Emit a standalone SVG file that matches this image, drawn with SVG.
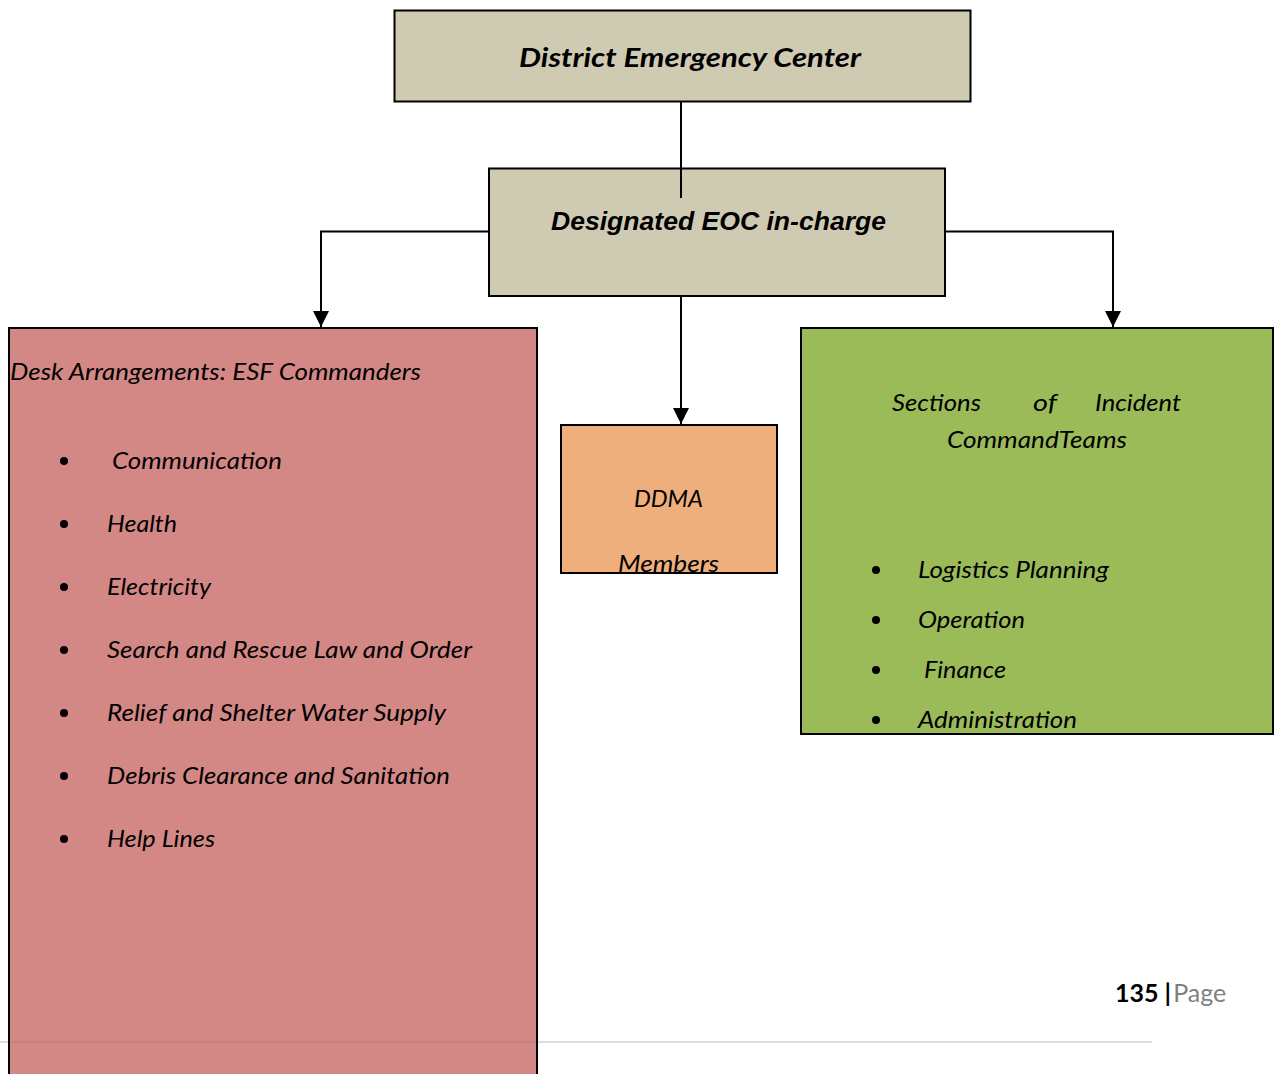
<svg xmlns="http://www.w3.org/2000/svg" width="1275" height="1074" viewBox="0 0 1275 1074">
<style>
.box{stroke:#000;stroke-width:2}
.tan{fill:#CFCBB3}
.conn{stroke:#000;stroke-width:2;fill:none}
.it{font-family:Lato,"Open Sans",sans-serif;font-style:italic;font-size:24px;fill:#000}
.bul{fill:#000}
</style>
<defs>
<marker id="arr" viewBox="0 0 10 10" refX="10" refY="5" markerWidth="16" markerHeight="20" markerUnits="userSpaceOnUse" orient="auto">
<path d="M0,0 L10,5 L0,10 z" fill="#000"/>
</marker>
</defs>
<rect x="0" y="0" width="1275" height="1074" fill="#fff"/>
<g id="footer-line"><line x1="0" y1="1042" x2="1152" y2="1042" stroke="#DDDDDD" stroke-width="2"/></g>

<g id="district">
<rect class="box tan" x="394.5" y="10.5" width="576" height="91"/>
<text x="690" y="67" text-anchor="middle" font-family="Lato,'Open Sans',sans-serif" font-weight="bold" font-style="italic" font-size="27" textLength="342" lengthAdjust="spacingAndGlyphs">District Emergency Center</text>
</g>

<g id="eoc">
<rect class="box tan" x="489" y="168.5" width="456" height="127.5"/>
<text x="718.5" y="230" text-anchor="middle" font-family="'Liberation Sans',Arial,sans-serif" font-weight="bold" font-style="italic" font-size="25" textLength="335" lengthAdjust="spacingAndGlyphs">Designated EOC in-charge</text>
</g>

<g id="desk">
<rect class="box" x="9" y="328" width="528" height="760" fill="#D48886"/>
<text class="it" x="10" y="380" textLength="411" lengthAdjust="spacingAndGlyphs">Desk Arrangements: ESF Commanders</text>
<circle class="bul" cx="64" cy="461" r="4"/>
<text class="it" x="112" y="469" textLength="170" lengthAdjust="spacingAndGlyphs">Communication</text>
<circle class="bul" cx="64" cy="524" r="4"/>
<text class="it" x="107" y="532" textLength="70" lengthAdjust="spacingAndGlyphs">Health</text>
<circle class="bul" cx="64" cy="587" r="4"/>
<text class="it" x="107" y="595" textLength="104" lengthAdjust="spacingAndGlyphs">Electricity</text>
<circle class="bul" cx="64" cy="650" r="4"/>
<text class="it" x="107" y="658" textLength="365" lengthAdjust="spacingAndGlyphs">Search and Rescue Law and Order</text>
<circle class="bul" cx="64" cy="713" r="4"/>
<text class="it" x="107" y="721" textLength="339" lengthAdjust="spacingAndGlyphs">Relief and Shelter Water Supply</text>
<circle class="bul" cx="64" cy="776" r="4"/>
<text class="it" x="107" y="784" textLength="343" lengthAdjust="spacingAndGlyphs">Debris Clearance and Sanitation</text>
<circle class="bul" cx="64" cy="839" r="4"/>
<text class="it" x="107" y="847" textLength="108" lengthAdjust="spacingAndGlyphs">Help Lines</text>
</g>
<g id="footer-line-over"><line x1="9" y1="1042" x2="537" y2="1042" stroke="#000" stroke-opacity="0.06" stroke-width="2"/></g>

<g id="ddma">
<rect class="box" x="561" y="425" width="216" height="148" fill="#EFAF7D"/>
<text class="it" x="634" y="507" textLength="69" lengthAdjust="spacingAndGlyphs">DDMA</text>
<text class="it" x="618" y="572" textLength="101" lengthAdjust="spacingAndGlyphs">Members</text>
</g>

<g id="sections">
<rect class="box" x="801" y="328" width="472" height="406" fill="#9BBB59"/>
<text class="it" x="892" y="411" textLength="89" lengthAdjust="spacingAndGlyphs">Sections</text>
<text class="it" x="1033" y="411" textLength="24" lengthAdjust="spacingAndGlyphs">of</text>
<text class="it" x="1095" y="411" textLength="86" lengthAdjust="spacingAndGlyphs">Incident</text>
<text class="it" x="947" y="448" textLength="180" lengthAdjust="spacingAndGlyphs">CommandTeams</text>
<circle class="bul" cx="876" cy="570" r="4"/>
<text class="it" x="918" y="578" textLength="191" lengthAdjust="spacingAndGlyphs">Logistics Planning</text>
<circle class="bul" cx="876" cy="620" r="4"/>
<text class="it" x="918" y="628" textLength="107" lengthAdjust="spacingAndGlyphs">Operation</text>
<circle class="bul" cx="876" cy="670" r="4"/>
<text class="it" x="924" y="678" textLength="82" lengthAdjust="spacingAndGlyphs">Finance</text>
<circle class="bul" cx="876" cy="720" r="4"/>
<text class="it" x="918" y="728" textLength="159" lengthAdjust="spacingAndGlyphs">Administration</text>
</g>

<g id="connectors">
<line class="conn" x1="681" y1="101" x2="681" y2="198"/>
<polyline class="conn" points="489,231.5 321,231.5 321,327" marker-end="url(#arr)"/>
<polyline class="conn" points="945,231.5 1113,231.5 1113,327" marker-end="url(#arr)"/>
<line class="conn" x1="681" y1="296" x2="681" y2="424" marker-end="url(#arr)"/>
</g>

<g id="page">
<text x="1115" y="1002" font-family="Lato,'Open Sans',sans-serif" font-size="25" font-weight="bold" fill="#000">135<tspan font-weight="bold"> |</tspan><tspan dx="2" font-weight="normal" fill="#7F7F7F">Page</tspan></text>
</g>
</svg>
